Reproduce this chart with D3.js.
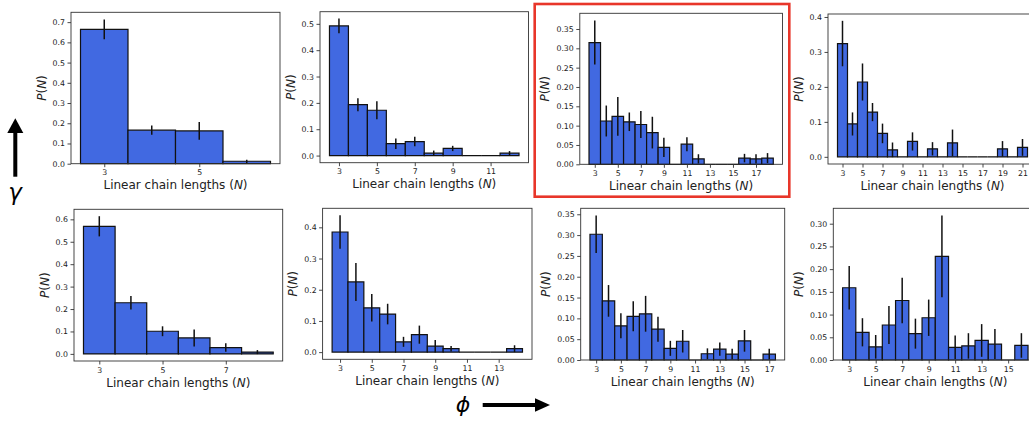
<!DOCTYPE html>
<html>
<head>
<meta charset="UTF-8">
<style>
    body { margin: 0; background: #fff; }
    svg { display: block; font-family: "DejaVu Sans", sans-serif; }
</style>
</head>
<body>
<svg></svg>
<script src="https://d3js.org/d3.v7.min.js"></script>
<script>

    // ---- data: P(N) and error per chain length N, one set per panel ----
    // top row
    const n1 = [3, 4, 5, 6];
    const p1 = [0.664, 0.166, 0.162, 0.012];
    const e1 = [0.049, 0.023, 0.044, 0.008];

    const n2 = [3, 4, 5, 6, 7, 8, 9, 10, 11, 12];
    const p2 = [0.492, 0.193, 0.172, 0.045, 0.053, 0.009, 0.027, 0, 0, 0.009];
    const e2 = [0.028, 0.025, 0.034, 0.020, 0.018, 0.010, 0.010, 0, 0, 0.008];

    const n3 = [3, 4, 5, 6, 7, 8, 9, 10, 11, 12, 13, 14, 15, 16, 17, 18];
    const p3 = [0.315, 0.112, 0.124, 0.110, 0.103, 0.082, 0.044, 0, 0.052, 0.014, 0, 0, 0, 0.016, 0.014, 0.016];
    const e3 = [0.057, 0.040, 0.050, 0.024, 0.035, 0.041, 0.025, 0, 0.018, 0.012, 0, 0, 0, 0.011, 0.012, 0.013];

    const n4 = [3, 4, 5, 6, 7, 8, 9, 10, 11, 12, 13, 14, 15, 16, 17, 18, 19, 20, 21];
    const p4 = [0.324, 0.094, 0.214, 0.128, 0.067, 0.020, 0, 0.044, 0, 0.023, 0, 0.040, 0, 0, 0, 0, 0.023, 0, 0.027];
    const e4 = [0.065, 0.033, 0.053, 0.026, 0.028, 0.021, 0, 0.026, 0, 0.019, 0, 0.038, 0, 0, 0, 0, 0.022, 0, 0.024];

    // bottom row
    const n5 = [3, 4, 5, 6, 7, 8];
    const p5 = [0.569, 0.228, 0.101, 0.071, 0.028, 0.008];
    const e5 = [0.045, 0.030, 0.022, 0.038, 0.019, 0.009];

    const n6 = [3, 4, 5, 6, 7, 8, 9, 10, 11, 12, 13, 14];
    const p6 = [0.385, 0.225, 0.142, 0.122, 0.033, 0.056, 0.019, 0.011, 0, 0, 0, 0.011];
    const e6 = [0.054, 0.061, 0.044, 0.033, 0.016, 0.029, 0.020, 0.009, 0, 0, 0, 0.011];

    const n7 = [3, 4, 5, 6, 7, 8, 9, 10, 11, 12, 13, 14, 15, 16, 17];
    const p7 = [0.302, 0.142, 0.082, 0.105, 0.111, 0.074, 0.028, 0.045, 0, 0.015, 0.026, 0.014, 0.046, 0, 0.014];
    const e7 = [0.045, 0.038, 0.030, 0.036, 0.043, 0.030, 0.018, 0.027, 0, 0.013, 0.016, 0.013, 0.026, 0, 0.013];

    const n8 = [3, 4, 5, 6, 7, 8, 9, 10, 11, 12, 13, 14, 15, 16];
    const p8 = [0.159, 0.061, 0.029, 0.077, 0.131, 0.058, 0.093, 0.228, 0.028, 0.031, 0.043, 0.035, 0, 0.032];
    const e8 = [0.048, 0.031, 0.026, 0.042, 0.050, 0.033, 0.040, 0.090, 0.026, 0.028, 0.036, 0.033, 0, 0.027];

    // tick labels
    const xTicks1 = [3, 5];
    const xTicks2 = [3, 5, 7, 9, 11];
    const xTicks3 = [3, 5, 7, 9, 11, 13, 15, 17];
    const xTicks4 = [3, 5, 7, 9, 11, 13, 15, 17, 19, 21];
    const xTicks5 = [3, 5, 7];
    const xTicks6 = [3, 5, 7, 9, 11, 13];
    const xTicks7 = [3, 5, 7, 9, 11, 13, 15, 17];
    const xTicks8 = [3, 5, 7, 9, 11, 13, 15];

    const yTicks1 = [0, 0.1, 0.2, 0.3, 0.4, 0.5, 0.6, 0.7];
    const yTicks2 = [0, 0.1, 0.2, 0.3, 0.4, 0.5];
    const yTicks3 = [0, 0.05, 0.10, 0.15, 0.20, 0.25, 0.30, 0.35];
    const yTicks4 = [0, 0.1, 0.2, 0.3, 0.4];
    const yTicks5 = [0, 0.1, 0.2, 0.3, 0.4, 0.5, 0.6];
    const yTicks6 = [0, 0.1, 0.2, 0.3, 0.4];
    const yTicks7 = [0, 0.05, 0.10, 0.15, 0.20, 0.25, 0.30, 0.35];
    const yTicks8 = [0, 0.05, 0.10, 0.15, 0.20, 0.25, 0.30];

    let width = 1029, height = 424;

    let svg = d3.select("svg")
        .attr("width", width)
        .attr("height", height);

    // axes boxes [left, top, width, height]
    let frames = [
        [71, 12.3, 209, 151.4], [320, 11.7, 208.5, 151], [579.8, 13.3, 202.7, 151], [828, 14, 209, 150],
        [74, 209.3, 208.7, 151.7], [322.6, 208.3, 209.4, 151], [580.7, 208.3, 204, 151.7], [833.3, 208.3, 204, 151.7]
    ];

    let panels = [
        { n: n1, p: p1, e: e1, xt: xTicks1, yt: yTicks1, fmt: ".1f" },
        { n: n2, p: p2, e: e2, xt: xTicks2, yt: yTicks2, fmt: ".1f" },
        { n: n3, p: p3, e: e3, xt: xTicks3, yt: yTicks3, fmt: ".2f" },
        { n: n4, p: p4, e: e4, xt: xTicks4, yt: yTicks4, fmt: ".1f" },
        { n: n5, p: p5, e: e5, xt: xTicks5, yt: yTicks5, fmt: ".1f" },
        { n: n6, p: p6, e: e6, xt: xTicks6, yt: yTicks6, fmt: ".1f" },
        { n: n7, p: p7, e: e7, xt: xTicks7, yt: yTicks7, fmt: ".2f" },
        { n: n8, p: p8, e: e8, xt: xTicks8, yt: yTicks8, fmt: ".2f" }
    ];

    panels.forEach((d, i) => drawPanel(d, frames[i]));

    function drawPanel(d, f) {
        let [fx, fy, fw, fh] = f;
        let g = svg.append("g").attr("transform", "translate(" + fx + "," + fy + ")");

        // matplotlib-like limits: 5% margin, bars stick to zero unless errors dip below
        let nMin = d3.min(d.n), nMax = d3.max(d.n);
        let span = nMax - nMin + 1;
        let x = d3.scaleLinear()
            .domain([nMin - 0.5 - 0.05 * span, nMax + 0.5 + 0.05 * span])
            .range([0, fw]);

        let hi = d3.max(d.p, (v, i) => v + d.e[i]);
        let lo = Math.min(0, d3.min(d.p, (v, i) => v - d.e[i]));
        let yDom = lo < 0 ? [lo - 0.05 * (hi - lo), hi + 0.05 * (hi - lo)] : [0, hi * 1.05];
        let y = d3.scaleLinear().domain(yDom).range([fh, 0]);

        // bars (paths so zero-height bars still show their edge)
        g.selectAll(".bar")
            .data(d.n)
            .enter()
            .append("path")
            .attr("class", "bar")
            .attr("d", (n, i) => {
                let x0 = x(n - 0.5), x1 = x(n + 0.5), y0 = y(0), y1 = y(d.p[i]);
                return "M" + x0 + "," + y0 + "H" + x1 + "V" + y1 + "H" + x0 + "Z";
            })
            .style("fill", "#4169e1")
            .style("stroke", "#111")
            .style("stroke-width", 1.2);

        // error bars
        g.selectAll(".err")
            .data(d.n.filter((n, i) => d.e[i] > 0))
            .enter()
            .append("line")
            .attr("x1", n => x(n))
            .attr("x2", n => x(n))
            .attr("y1", n => { let i = d.n.indexOf(n); return y(d.p[i] - d.e[i]); })
            .attr("y2", n => { let i = d.n.indexOf(n); return y(d.p[i] + d.e[i]); })
            .style("stroke", "#111")
            .style("stroke-width", 1.5);

        // axes
        let xAxis = g.append("g")
            .attr("transform", "translate(0," + fh + ")")
            .call(d3.axisBottom(x).tickValues(d.xt).tickFormat(d3.format("d")).tickSize(3.5).tickPadding(2.5));
        let yAxis = g.append("g")
            .call(d3.axisLeft(y).tickValues(d.yt).tickFormat(d3.format(d.fmt)).tickSize(3.5).tickPadding(2.5));

        [xAxis, yAxis].forEach(a => {
            a.select(".domain").remove();
            a.selectAll("line").style("stroke", "#333").style("stroke-width", 0.9);
            a.selectAll("text").style("font-size", "7.8px").style("fill", "#222")
                .style("font-family", "DejaVu Sans");
        });

        // frame
        g.append("rect")
            .attr("width", fw)
            .attr("height", fh)
            .style("fill", "none")
            .style("stroke", "#333")
            .style("stroke-width", 0.9);

        // labels
        let xl = g.append("text")
            .attr("x", fw / 2)
            .attr("y", fh + 25.7)
            .attr("text-anchor", "middle")
            .style("font-size", "12px")
            .style("fill", "#222");
        xl.append("tspan").text("Linear chain lengths (");
        xl.append("tspan").style("font-style", "italic").text("N");
        xl.append("tspan").text(")");

        let tickLeft = d3.min(yAxis.selectAll("text").nodes(), t => t.getBBox().x);
        let yl = g.append("text")
            .attr("transform", "translate(" + (tickLeft - 7) + "," + (fh / 2) + ") rotate(-90)")
            .attr("text-anchor", "middle")
            .style("font-size", "12px")
            .style("fill", "#222");
        yl.append("tspan").style("font-style", "italic").text("P");
        yl.append("tspan").text("(");
        yl.append("tspan").style("font-style", "italic").text("N");
        yl.append("tspan").text(")");
    }

    // highlighted panel
    svg.append("rect")
        .attr("x", 534.7).attr("y", 4)
        .attr("width", 254.6).attr("height", 192.7)
        .style("fill", "none")
        .style("stroke", "#e8362a")
        .style("stroke-width", 2.6);

    // gamma arrow (up)
    svg.append("rect").attr("x", 13.3).attr("y", 131).attr("width", 4).attr("height", 45.7).style("fill", "#000");
    svg.append("path").attr("d", "M7.3,133 L23.3,133 L15.3,118.3 Z").style("fill", "#000");
    svg.append("text").attr("x", 15).attr("y", 200).attr("text-anchor", "middle")
        .style("font-size", "23px").style("font-style", "italic").text("γ");

    // phi arrow (right)
    svg.append("rect").attr("x", 482.7).attr("y", 403).attr("width", 54).attr("height", 4).style("fill", "#000");
    svg.append("path").attr("d", "M535,398.3 L535,411.7 L550,405 Z").style("fill", "#000");
    svg.append("text").attr("x", 463).attr("y", 412).attr("text-anchor", "middle")
        .style("font-size", "22px").style("font-style", "italic").text("ϕ");

</script>
</body>
</html>
